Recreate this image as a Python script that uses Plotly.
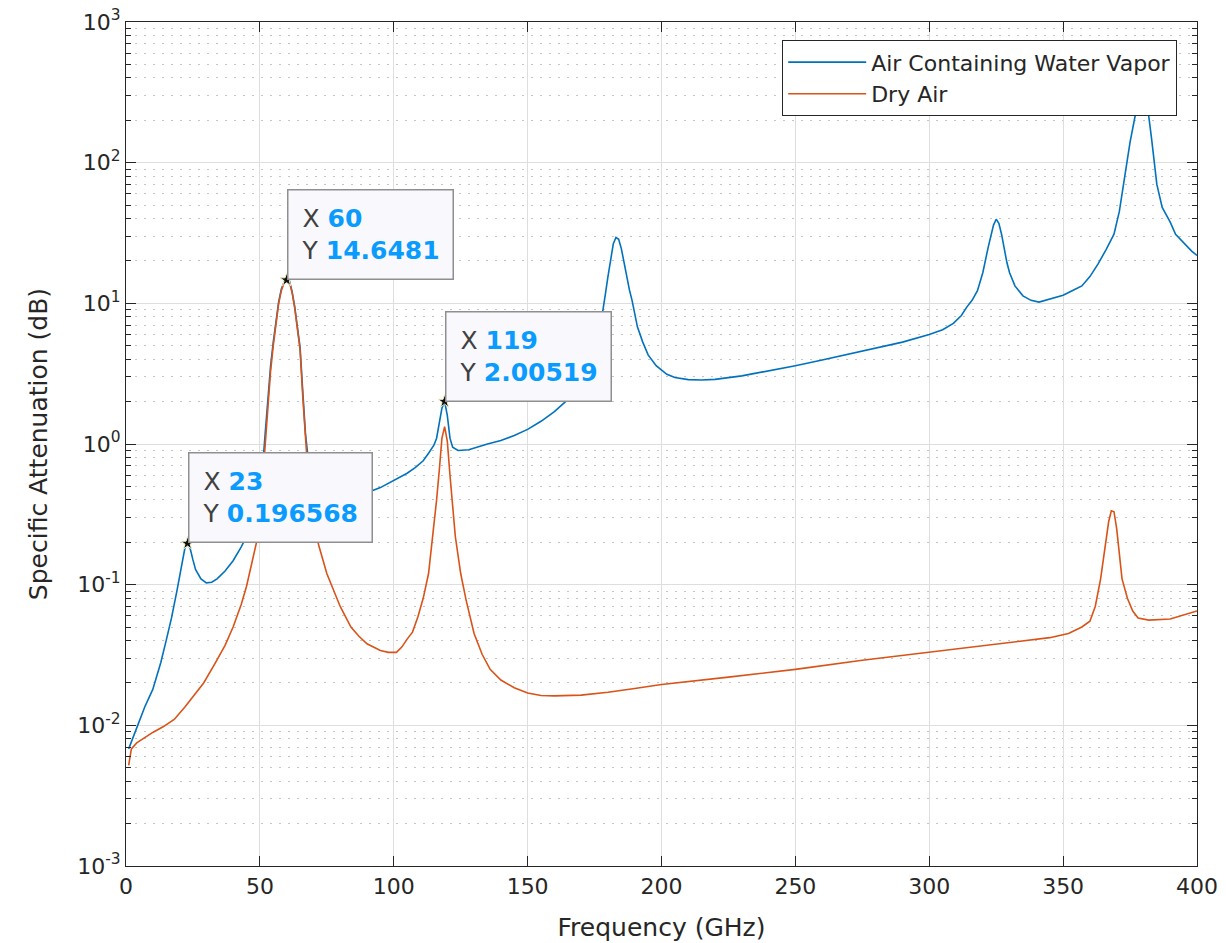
import numpy as np
import plotly.graph_objects as go

# Frequency grid (GHz) and specific attenuation (dB) for air containing water vapor
freq_wet = [1, 3, 5, 7, 10, 13, 15, 17, 19, 20, 21, 22, 23, 24, 25, 26, 28, 30, 32, 34, 37,
            40, 43, 45, 47, 49, 50, 51, 52, 53, 54, 55, 56, 57, 58, 59, 60, 61, 62, 63, 64,
            65, 66, 67, 68, 69, 70, 72, 75, 80, 85, 90, 95, 100, 105, 108, 111, 113, 115,
            116, 117, 118, 119, 120, 121, 122, 124, 128, 135, 140, 145, 150, 155, 160, 165,
            170, 173, 175, 177, 178, 179, 180, 181, 182, 183, 184, 185, 186, 187, 188, 189,
            190, 191, 193, 195, 198, 202, 205, 210, 215, 220, 230, 240, 250, 260, 270, 280,
            290, 300, 305, 309, 312, 314, 316, 318, 320, 322, 324, 325, 326, 327, 328, 329,
            330, 332, 335, 338, 341, 345, 350, 353, 357, 360, 363, 366, 369, 371, 373, 375,
            377, 379, 380, 381, 383, 385, 387, 390, 392, 395, 398, 400]
atten_wet = [0.0068, 0.0085, 0.0105, 0.0135, 0.018, 0.028, 0.040, 0.058, 0.090, 0.115, 0.148,
             0.182, 0.196568, 0.180, 0.150, 0.128, 0.110, 0.103, 0.104, 0.110, 0.125,
             0.148, 0.185, 0.22, 0.27, 0.36, 0.45, 0.68, 1.2, 2.2, 3.6, 5.3, 7.5, 10.2, 12.6,
             14.1, 14.6481, 14.5, 12.2, 9.5, 6.8,
             4.9, 2.4, 1.2, 0.8, 0.62, 0.52, 0.46, 0.43, 0.42, 0.43, 0.45, 0.49, 0.55, 0.62,
             0.68, 0.76, 0.86, 0.98,
             1.1, 1.4, 1.8, 2.00519, 1.6, 1.1, 0.95, 0.90, 0.91, 1.0, 1.06, 1.15, 1.27, 1.45,
             1.7, 2.07,
             2.6, 3.3, 4.3, 6.5, 9.0, 11.5, 15.5, 21.0, 26.5, 29.4, 28.5, 24.5, 19.5, 15.6,
             12.5, 10.5,
             8.6, 6.8, 5.3, 4.3, 3.6, 3.13, 2.97, 2.87, 2.85, 2.88, 3.05, 3.3, 3.6, 3.95, 4.35,
             4.8,
             5.3, 6.0, 6.5, 7.2, 8.2, 9.4, 10.5, 12.3, 16.5, 25.0, 36.0, 39.6, 37.0, 31.0,
             24.5, 19.5,
             16.5, 13.3, 11.3, 10.5, 10.2, 10.7, 11.4, 12.2, 13.3, 15.5, 19.0, 24.0, 31.0,
             45.0, 80.0, 140.0,
             220.0, 300.0, 330.0, 300.0, 150.0, 70.0, 48.0, 37.8, 31.0, 26.8, 23.5, 21.9]

# Frequency grid (GHz) and specific attenuation (dB) for dry air
freq_dry = [1, 2, 4, 7, 10, 14, 18, 22, 25, 29, 33, 37, 40, 43, 45, 47, 49, 50, 51, 52, 53,
            54, 55, 56, 57, 58, 59, 60, 61, 62, 63, 64, 65, 66, 67, 68, 69, 70, 72, 75, 80,
            84, 87, 90, 95, 98, 101, 103, 105, 107, 109, 111, 113, 115, 116, 117, 118, 119,
            120, 121, 122, 123, 125, 127, 130, 133, 136, 140, 145, 150, 155, 160, 170, 180,
            190, 200, 225, 250, 275, 300, 325, 345, 352, 357, 360, 362, 364, 366, 367, 368,
            369, 370, 371, 372, 374, 376, 378, 382, 390, 395, 400]
atten_dry = [0.0052, 0.0068, 0.0075, 0.0082, 0.0089, 0.0098, 0.011, 0.0135, 0.016, 0.020,
             0.027, 0.037, 0.05, 0.072, 0.097, 0.14, 0.21, 0.30, 0.55, 1.05, 1.95,
             3.3, 5.0, 7.2, 9.9, 12.3, 13.9, 14.5, 14.3, 12.0, 9.3, 6.6, 4.7, 2.2, 1.05, 0.6,
             0.38, 0.28, 0.19, 0.12, 0.07,
             0.05, 0.043, 0.038, 0.034, 0.033, 0.033, 0.036, 0.041, 0.046, 0.059, 0.08, 0.12,
             0.25, 0.4, 0.65, 1.1, 1.33,
             1.05, 0.6, 0.35, 0.22, 0.12, 0.078, 0.045, 0.032, 0.025, 0.021, 0.0185, 0.017,
             0.0163, 0.0162, 0.0164, 0.0172,
             0.0183, 0.0195, 0.022, 0.025, 0.029, 0.033, 0.038, 0.042, 0.045, 0.05, 0.055,
             0.07, 0.11, 0.2, 0.28, 0.335,
             0.33, 0.25, 0.16, 0.11, 0.08, 0.065, 0.058, 0.056, 0.057, 0.061, 0.065]

# Frequencies marked with data tips (on the water-vapor curve)
tip_freqs = [23, 60, 119]

# Axis ticks
x_ticks = [0, 50, 100, 150, 200, 250, 300, 350, 400]
y_exponents = [-3, -2, -1, 0, 1, 2, 3]

BLUE = "#0072BD"
ORANGE = "#D95319"
AXIS = "#262626"
FONT = "DejaVu Sans"

tip_vals = [atten_wet[freq_wet.index(f)] for f in tip_freqs]

fig = go.Figure()
fig.add_trace(go.Scatter(x=freq_wet, y=atten_wet, mode="lines",
                         name="Air Containing Water Vapor",
                         line=dict(color=BLUE, width=1.6)))
fig.add_trace(go.Scatter(x=freq_dry, y=atten_dry, mode="lines", name="Dry Air",
                         line=dict(color=ORANGE, width=1.6)))
fig.add_trace(go.Scatter(x=tip_freqs, y=tip_vals, mode="markers", showlegend=False,
                         hoverinfo="skip", cliponaxis=False,
                         marker=dict(symbol="star", size=10, color="#111111",
                                     line=dict(color="#f2f0c8", width=1))))

# Data-tip boxes anchored at their points
for f, v in zip(tip_freqs, tip_vals):
    fig.add_annotation(
        x=f, y=np.log10(v), xref="x", yref="y", showarrow=False,
        xanchor="left", yanchor="bottom", align="left",
        text=(f"<span style='color:#404040'>X</span> <b style='color:#0a9bff'>{f:g}</b><br>"
              f"<span style='color:#404040'>Y</span> <b style='color:#0a9bff'>{v:g}</b>"),
        font=dict(family=FONT, size=25),
        bgcolor="#f8f8fd", bordercolor="#8f8f8f", borderwidth=1.5, borderpad=13,
    )

fig.update_layout(
    width=1226, height=943,
    margin=dict(l=126, r=29, t=22, b=77),
    paper_bgcolor="white", plot_bgcolor="white",
    font=dict(family=FONT, size=22, color=AXIS),
    showlegend=True,
    legend=dict(x=0.9813, y=0.9785, xanchor="right", yanchor="top",
                bgcolor="white", bordercolor=AXIS, borderwidth=1.2,
                font=dict(family=FONT, size=22, color=AXIS),
                itemwidth=78, tracegroupgap=0),
)

fig.update_xaxes(
    range=[0, 400], tickvals=x_ticks, ticktext=[str(t) for t in x_ticks],
    ticks="inside", ticklen=10, tickcolor=AXIS, tickwidth=1,
    showline=True, linecolor=AXIS, linewidth=1.2, mirror="ticks",
    showgrid=True, gridcolor="#dedede", gridwidth=1, zeroline=False,
    automargin=False,
    tickfont=dict(size=22, color=AXIS),
    title=dict(text="Frequency (GHz)", font=dict(size=25, color=AXIS), standoff=20),
)

fig.update_yaxes(
    type="log", range=[-3, 3],
    tickvals=[10.0 ** e for e in y_exponents],
    ticktext=[f"10<sup>{e}</sup>" for e in y_exponents],
    ticks="inside", ticklen=10, tickcolor=AXIS, tickwidth=1,
    showline=True, linecolor=AXIS, linewidth=1.2, mirror="ticks",
    showgrid=True, gridcolor="#dedede", gridwidth=1, zeroline=False,
    automargin=False,
    tickfont=dict(size=22, color=AXIS),
    minor=dict(dtick="D1", ticks="inside", ticklen=5, tickcolor=AXIS,
               showgrid=True, gridcolor="#c4c4c4", griddash="2px,7px", gridwidth=1),
    title=dict(text="Specific Attenuation (dB)", font=dict(size=25, color=AXIS), standoff=22),
)

fig.write_html("out.html")
